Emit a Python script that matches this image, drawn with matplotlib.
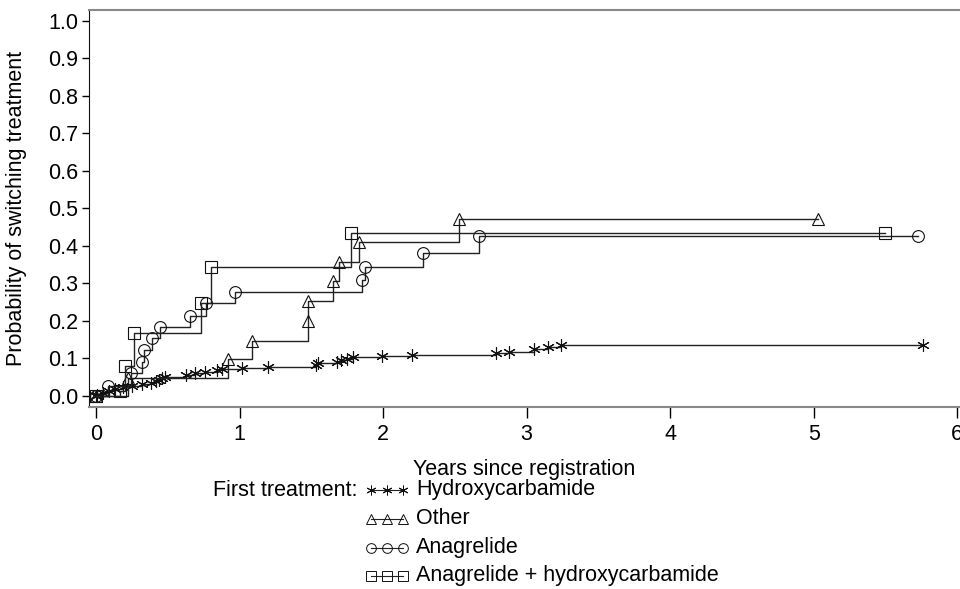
import matplotlib.pyplot as plt
from matplotlib.lines import Line2D

plt.rcParams['font.family'] = ['Liberation Sans', 'DejaVu Sans']

# Kaplan-Meier type curves (years, probability)
hydroxy_x = [0.0, 0.01, 0.05, 0.09, 0.13, 0.19, 0.25, 0.32, 0.38, 0.42, 0.44, 0.46, 0.48,
             0.63, 0.69, 0.76, 0.84, 0.88, 1.02, 1.2, 1.53, 1.55, 1.68, 1.71, 1.75, 1.79,
             1.99, 2.2, 2.79, 2.88, 3.05, 3.15, 3.24, 5.76]
hydroxy_y = [0.0, 0.003, 0.008, 0.013, 0.018, 0.022, 0.026, 0.03, 0.034, 0.038, 0.042, 0.046, 0.05,
             0.055, 0.06, 0.064, 0.068, 0.072, 0.075, 0.077, 0.082, 0.087, 0.09, 0.094, 0.099, 0.103,
             0.106, 0.109, 0.113, 0.117, 0.124, 0.131, 0.136, 0.136]

other_x = [0.0, 0.22, 0.92, 1.09, 1.48, 1.48, 1.65, 1.69, 1.83, 2.53, 5.03]
other_y = [0.0, 0.048, 0.097, 0.146, 0.2, 0.252, 0.306, 0.356, 0.41, 0.47, 0.47]

anag_x = [0.0, 0.08, 0.245, 0.32, 0.335, 0.39, 0.445, 0.655, 0.765, 0.97, 1.85, 1.875, 2.28, 2.67, 5.73]
anag_y = [0.0, 0.027, 0.06, 0.09, 0.122, 0.153, 0.183, 0.213, 0.247, 0.277, 0.308, 0.343, 0.38, 0.425, 0.425]

anhy_x = [0.0, 0.17, 0.2, 0.265, 0.73, 0.8, 1.78, 5.5]
anhy_y = [0.0, 0.012, 0.08, 0.166, 0.248, 0.342, 0.435, 0.435]

labels = ['Hydroxycarbamide', 'Other', 'Anagrelide', 'Anagrelide + hydroxycarbamide']
markers = [(6, 2, 0), '^', 'o', 's']
sizes = [9, 9, 8.5, 8.5]

fig = plt.figure(figsize=(9.6, 5.89), dpi=100)
ax = fig.add_axes([89 / 960, 1 - 407 / 589, 1 - 89 / 960, (407 - 10) / 589])

series = [(hydroxy_x, hydroxy_y), (other_x, other_y), (anag_x, anag_y), (anhy_x, anhy_y)]
for (x, y), m, s in zip(series, markers, sizes):
    ax.plot(x, y, drawstyle='steps-post', color='#222222', lw=1.0,
            marker=m, ms=s, mfc='none', mec='#111111', mew=0.8, clip_on=False)

ax.set_xlim(-0.049, 6.02)
ax.set_ylim(-0.030, 1.0285)
ax.set_xticks(range(7))
ax.set_yticks([i / 10 for i in range(11)])
ax.set_yticklabels(['%.1f' % (i / 10) for i in range(11)])
ax.tick_params(axis='x', direction='out', length=8, width=1, labelsize=15.5, pad=4)
ax.tick_params(axis='y', direction='out', length=5, width=1, labelsize=15.5, pad=3)
ax.spines['right'].set_visible(False)
ax.spines['top'].set_color('#888888')
ax.spines['bottom'].set_color('#888888')
ax.spines['top'].set_linewidth(1.5)
ax.spines['bottom'].set_linewidth(1.5)
ax.spines['left'].set_color('#111111')

ax.set_xlabel('Years since registration', fontsize=15.5, labelpad=10)
fig.text(17 / 960, 1 - 208 / 589, 'Probability of switching treatment', fontsize=15.5,
         rotation=90, ha='center', va='center')

# legend drawn by hand under the axis
rows = [490, 519, 548, 576]
fig.text(213 / 960, 1 - rows[0] / 589, 'First treatment:', fontsize=15.5, va='center', ha='left')
for lab, m, r in zip(labels, markers, rows):
    yy = 1 - r / 589
    xs = [371 / 960, 387 / 960, 403 / 960]
    fig.add_artist(Line2D(xs, [yy] * 3, transform=fig.transFigure, color='#222222', lw=0.8,
                          marker=m, ms=7, mfc='none', mec='#111111', mew=0.7))
    fig.text(416 / 960, yy, lab, fontsize=15.5, va='center', ha='left')

fig.savefig('out.png', dpi=100)
